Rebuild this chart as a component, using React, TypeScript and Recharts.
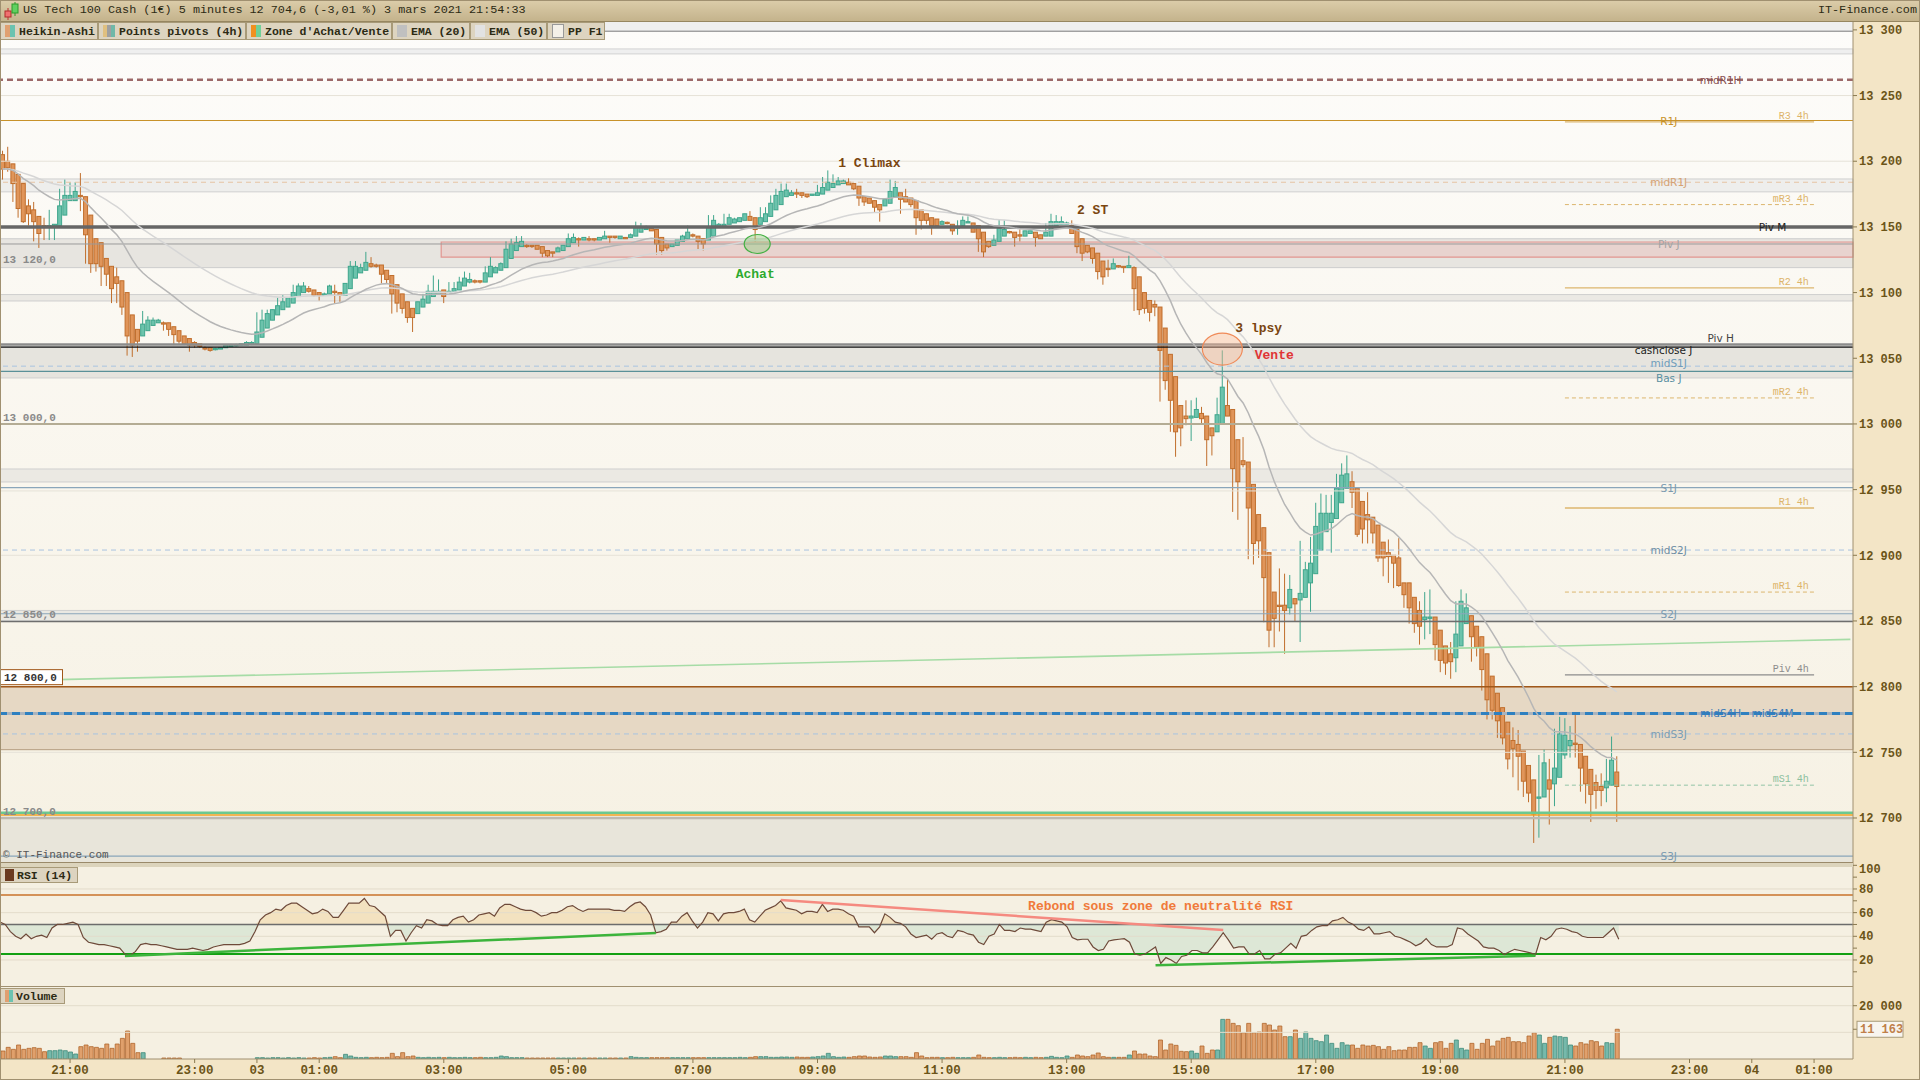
import React from 'react';
import {
  ComposedChart,
  Bar,
  Line,
  Area,
  XAxis,
  YAxis,
  ReferenceLine,
  ReferenceArea,
  ReferenceDot,
  Cell,
} from 'recharts';

const MONO = '"Liberation Mono", "DejaVu Sans Mono", monospace';
const SANS = '"DejaVu Sans", "Liberation Sans", sans-serif';

// Heikin-Ashi 5 min candles, one per slot from 19:55 (2 mars) to 21:50 (3 mars)
const haOpen = [
  13205, 13200, 13198, 13190, 13183, 13166, 13163, 13158, 13151, 13150,
  13151, 13151, 13159, 13170, 13170, 13174, 13173, 13159, 13141, 13138,
  13126, 13120, 13112, 13109, 13100, 13083, 13072, 13067, 13071, 13075,
  13077, 13077, 13077, 13074, 13071, 13067, 13065, 13062, 13061, 13058,
  13058, 13056.5, 13057, 13058, 13059, 13059.5, 13060, 13060, 13061, 13061,
  13066, 13073, 13079, 13083, 13087, 13089, 13092, 13097, 13100, 13103,
  13102, 13100, 13098, 13099, 13101, 13100, 13098, 13103, 13111, 13115,
  13117, 13122, 13121, 13121, 13117, 13113, 13106, 13099, 13093, 13088,
  13084, 13089, 13092, 13097, 13099, 13102, 13100, 13101, 13102, 13105,
  13108, 13109, 13109, 13108, 13112, 13115, 13117, 13119, 13126, 13132,
  13135, 13136, 13136, 13136, 13135, 13132, 13131, 13131, 13132, 13135,
  13138, 13141, 13140, 13141, 13141, 13140, 13141, 13143, 13143, 13141,
  13142, 13142, 13143, 13146, 13148, 13149, 13148, 13142, 13137, 13135,
  13136, 13139, 13141, 13144, 13143, 13141, 13140, 13143, 13150, 13150,
  13152, 13153, 13154, 13155, 13158, 13157, 13152, 13154, 13158, 13163,
  13167, 13173, 13174, 13176, 13176, 13175, 13174, 13174, 13175, 13178,
  13180, 13182, 13183, 13184, 13183, 13181, 13173, 13172, 13170, 13167,
  13166, 13168, 13173, 13176, 13173, 13172, 13170, 13163, 13160, 13157,
  13156, 13152, 13153.5, 13152, 13149, 13151, 13153, 13153, 13151, 13146,
  13139, 13136, 13139, 13143, 13146.5, 13146, 13144, 13143, 13145, 13146,
  13144, 13143, 13143, 13151, 13152, 13152, 13151, 13148, 13141, 13136,
  13134, 13130, 13124, 13118.5, 13118, 13120.5, 13120, 13119, 13119, 13112,
  13100, 13094, 13091, 13089, 13073, 13053, 13036, 13014, 13006, 13004.5,
  13005, 13008, 13006, 12997, 12994, 13000, 13014, 13011, 12988, 12972,
  12971, 12954, 12931, 12921, 12902, 12872, 12862, 12862, 12860, 12867,
  12866, 12868, 12879, 12886, 12904, 12918, 12925, 12928, 12940, 12951,
  12956, 12951, 12941, 12931, 12929, 12923, 12910, 12902, 12900, 12898,
  12879, 12879, 12868, 12858, 12851, 12852, 12853, 12843, 12831, 12825,
  12822, 12831, 12848, 12854, 12846, 12838, 12825, 12808, 12795, 12784,
  12773, 12759, 12756, 12751, 12740, 12729, 12715, 12716, 12729, 12726,
  12731, 12748, 12755, 12757, 12756, 12747, 12737, 12727, 12724, 12723,
  12725, 12735,
];
const haClose = [
  13194, 13195, 13183, 13164, 13154, 13160, 13154, 13145, 13150, 13151,
  13152, 13166, 13174, 13174, 13177, 13173, 13144, 13122, 13122, 13120,
  13114, 13103, 13107, 13089, 13067, 13060, 13063, 13076, 13079, 13079,
  13079, 13076, 13072, 13068, 13063, 13061, 13060, 13060, 13059, 13057,
  13056, 13057.5, 13058, 13060, 13060, 13060.5, 13061, 13062, 13062, 13070,
  13079, 13084, 13087, 13090, 13093, 13096, 13100, 13105, 13105, 13101,
  13098, 13098, 13099, 13105, 13100, 13098, 13107, 13120, 13120, 13119,
  13123, 13120, 13120, 13114, 13110, 13099, 13092, 13088, 13081, 13081,
  13093, 13095, 13101, 13101, 13101, 13097, 13101, 13103, 13108, 13111,
  13110, 13108, 13108, 13115, 13120, 13119, 13122, 13133, 13137, 13138,
  13139, 13135, 13135, 13133, 13130, 13128, 13130, 13134, 13136, 13141,
  13142, 13140, 13142, 13140, 13140, 13142, 13143, 13142, 13142, 13143,
  13141, 13144, 13150, 13150, 13149, 13147, 13137, 13132, 13134, 13137,
  13140, 13143, 13146, 13143, 13139, 13137, 13150, 13155, 13152, 13152,
  13157, 13156, 13157, 13160, 13155, 13148, 13157, 13160, 13168, 13174,
  13177, 13178, 13176, 13175, 13174, 13173, 13175, 13176, 13180, 13184,
  13183, 13185, 13185, 13182, 13179, 13172, 13169, 13168, 13165, 13163,
  13171, 13177, 13180, 13171, 13169, 13167, 13157, 13155, 13155, 13151,
  13151, 13154, 13152.5, 13147, 13150, 13155, 13154, 13146, 13141, 13131,
  13135, 13140, 13149, 13148, 13145.5, 13142, 13143, 13147, 13147, 13142,
  13141, 13146, 13154, 13154, 13154, 13153, 13145, 13135, 13130, 13131,
  13126, 13116, 13112, 13117.5, 13122, 13119.5, 13119, 13120.5, 13103, 13087,
  13088, 13085, 13089, 13056, 13033, 13018, 12994, 12997, 13004, 13006,
  13011, 13004, 12988, 12991, 13007, 13028, 13006, 12966, 12956, 12969,
  12936, 12909, 12911, 12883, 12843, 12852, 12861, 12858, 12874, 12863,
  12871, 12889, 12894, 12922, 12932, 12932, 12932, 12951, 12961, 12962,
  12948, 12916, 12920, 12927, 12917, 12898, 12898, 12899, 12894, 12877,
  12870, 12860, 12848, 12846, 12853, 12853, 12832, 12820, 12818, 12819,
  12840, 12865, 12860, 12838, 12830, 12813, 12790, 12782, 12774, 12761,
  12745, 12753, 12747, 12728, 12719, 12703, 12716, 12742, 12722, 12738,
  12764, 12763, 12759, 12756, 12738, 12726, 12718, 12721, 12721, 12728,
  12744, 12724,
];
const haHigh = [
  13208, 13211, 13198, 13190, 13183, 13171, 13169, 13158, 13157, 13163,
  13152, 13179, 13186, 13184, 13184, 13191, 13173, 13159, 13141, 13138,
  13126, 13120, 13119, 13109, 13100, 13083, 13072, 13086, 13082, 13081,
  13080, 13078, 13077, 13074, 13071, 13067, 13065, 13063, 13061, 13059,
  13058, 13058, 13058, 13060, 13061, 13061, 13061, 13063, 13063, 13085,
  13087, 13087, 13087, 13096, 13098, 13096, 13106, 13107, 13108, 13105,
  13102, 13100, 13100, 13106, 13106, 13100, 13107, 13124, 13124, 13122,
  13131, 13127, 13122, 13121, 13117, 13113, 13106, 13099, 13093, 13088,
  13093, 13099, 13106, 13113, 13110, 13102, 13108, 13108, 13112, 13116,
  13115, 13110, 13109, 13120, 13127, 13120, 13123, 13139, 13141, 13143,
  13143, 13137, 13136, 13136, 13135, 13132, 13131, 13135, 13136, 13145,
  13145, 13142, 13142, 13143, 13141, 13142, 13147, 13143, 13143, 13143,
  13142, 13145, 13154, 13153, 13151, 13149, 13148, 13142, 13137, 13137,
  13140, 13144, 13151, 13145, 13143, 13141, 13159, 13159, 13153, 13160,
  13160, 13157, 13157, 13160, 13162, 13157, 13165, 13165, 13174, 13179,
  13183, 13183, 13178, 13179, 13176, 13175, 13175, 13182, 13188, 13193,
  13190, 13188, 13186, 13187, 13183, 13181, 13173, 13172, 13170, 13167,
  13171, 13186, 13185, 13176, 13179, 13172, 13170, 13163, 13160, 13157,
  13156, 13155, 13154, 13152, 13155, 13158, 13158, 13153, 13151, 13146,
  13139, 13144, 13156, 13155, 13147, 13146, 13148, 13147, 13147, 13146,
  13144, 13153, 13160, 13159, 13158, 13154, 13155, 13148, 13141, 13136,
  13134, 13130, 13124, 13125, 13126, 13121, 13120, 13128, 13120, 13112,
  13100, 13094, 13094, 13089, 13073, 13053, 13036, 13014, 13018, 13018,
  13020, 13013, 13006, 12997, 13020, 13056, 13034, 13011, 12988, 12990,
  12971, 12954, 12931, 12921, 12902, 12872, 12890, 12886, 12885, 12867,
  12911, 12895, 12914, 12940, 12947, 12946, 12946, 12962, 12970, 12976,
  12964, 12951, 12941, 12948, 12929, 12923, 12910, 12912, 12900, 12913,
  12879, 12879, 12868, 12865, 12872, 12874, 12853, 12843, 12831, 12834,
  12865, 12874, 12871, 12854, 12846, 12838, 12825, 12808, 12795, 12784,
  12773, 12769, 12767, 12751, 12740, 12729, 12748, 12752, 12745, 12768,
  12777, 12776, 12770, 12780, 12756, 12747, 12737, 12733, 12734, 12745,
  12762, 12747,
];
const haLow = [
  13186, 13192, 13169, 13157, 13153, 13151, 13139, 13134, 13140, 13140,
  13140, 13151, 13159, 13170, 13170, 13162, 13122, 13115, 13116, 13105,
  13105, 13092, 13092, 13083, 13052, 13051, 13055, 13067, 13071, 13075,
  13077, 13071, 13067, 13060, 13061, 13060, 13055, 13058, 13058, 13056,
  13055, 13056, 13057, 13058, 13059, 13059, 13060, 13060, 13060, 13061,
  13066, 13073, 13079, 13083, 13087, 13089, 13092, 13097, 13100, 13100,
  13097, 13094, 13098, 13099, 13092, 13093, 13098, 13103, 13111, 13115,
  13117, 13119, 13119, 13107, 13107, 13084, 13085, 13084, 13077, 13070,
  13084, 13089, 13092, 13097, 13099, 13092, 13100, 13101, 13102, 13105,
  13107, 13107, 13107, 13108, 13112, 13115, 13117, 13119, 13126, 13132,
  13135, 13134, 13134, 13133, 13127, 13127, 13127, 13131, 13132, 13135,
  13138, 13135, 13140, 13139, 13139, 13140, 13141, 13138, 13141, 13141,
  13141, 13142, 13143, 13146, 13148, 13147, 13129, 13129, 13132, 13135,
  13136, 13139, 13141, 13142, 13133, 13132, 13140, 13143, 13150, 13150,
  13152, 13153, 13154, 13155, 13155, 13139, 13152, 13154, 13158, 13163,
  13167, 13173, 13174, 13172, 13172, 13172, 13174, 13174, 13175, 13178,
  13180, 13182, 13183, 13182, 13178, 13166, 13166, 13168, 13161, 13154,
  13166, 13168, 13173, 13160, 13169, 13165, 13144, 13148, 13152, 13144,
  13150, 13152, 13152, 13144, 13144, 13151, 13153, 13146, 13131, 13127,
  13134, 13136, 13139, 13143, 13145, 13135, 13139, 13143, 13145, 13135,
  13141, 13143, 13143, 13151, 13152, 13152, 13145, 13130, 13124, 13130,
  13122, 13110, 13106, 13112, 13118, 13119, 13115, 13119, 13086, 13083,
  13084, 13078, 13082, 13017, 13026, 12994, 12975, 12983, 12999, 12987,
  13005, 13000, 12968, 12976, 12994, 13000, 13006, 12933, 12927, 12967,
  12897, 12893, 12898, 12849, 12830, 12830, 12842, 12825, 12855, 12850,
  12834, 12868, 12857, 12886, 12904, 12918, 12902, 12928, 12940, 12951,
  12936, 12914, 12909, 12909, 12909, 12895, 12884, 12879, 12875, 12876,
  12860, 12848, 12841, 12832, 12836, 12840, 12820, 12811, 12809, 12806,
  12811, 12831, 12848, 12819, 12823, 12797, 12775, 12775, 12761, 12756,
  12737, 12731, 12721, 12716, 12712, 12681, 12685, 12716, 12695, 12709,
  12731, 12745, 12746, 12746, 12720, 12711, 12697, 12707, 12709, 12712,
  12725, 12697,
];

// RSI (14)
const rsiValues = [
  52, 50, 44, 40, 38, 42, 38, 40, 41, 39,
  47, 50, 50, 51, 52, 50, 39, 35, 34, 33,
  33, 32, 31, 30, 25, 24, 27, 33, 34, 33,
  33, 32, 31, 30, 29, 29, 29, 30, 29, 28,
  29, 31, 32, 33, 33, 33, 33, 34, 36, 44,
  54, 58, 60, 63, 62, 66, 68, 68, 65, 62,
  59, 60, 63, 61, 56, 56, 62, 68, 68, 68,
  72, 66, 65, 61, 57, 40, 45, 45, 36, 43,
  49, 47, 54, 53, 50, 49, 49, 54, 56, 57,
  52, 54, 58, 59, 60, 57, 64, 67, 67, 65,
  63, 62, 62, 60, 57, 58, 60, 60, 62, 65,
  66, 63, 61, 63, 63, 63, 63, 63, 62, 62,
  61, 65, 68, 69, 65, 58, 43, 44, 46, 52,
  52, 57, 60, 53, 47, 52, 60, 59, 53, 59,
  60, 60, 61, 63, 54, 52, 57, 62, 64, 66,
  70, 64, 63, 62, 59, 61, 61, 60, 67, 61,
  63, 63, 62, 59, 57, 48, 48, 48, 43, 48,
  59, 56, 52, 51, 48, 42, 39, 40, 41, 37.5,
  42, 43, 40, 39, 45, 44, 42, 41, 35, 33,
  40, 42, 50, 45, 45, 44, 47, 46, 46, 45,
  44, 52, 54, 53, 52, 48, 39, 37, 37.5, 37.5,
  31, 28, 29, 36, 37, 37.5, 38, 35, 25, 24,
  25, 28, 31, 17, 22, 20, 17, 23, 24, 28,
  28, 26, 26, 31, 37, 43, 37, 30, 31, 31,
  25, 25, 28, 21, 21, 25, 26, 30, 34, 30,
  40, 41, 45, 48, 49, 49, 53, 54, 56, 52,
  50, 46, 45, 48, 42, 42, 43, 44, 40, 39,
  37, 35, 32, 34, 38, 33, 31, 31, 31, 33,
  47, 46, 42, 39, 36, 31, 30, 30, 28, 24.5,
  27, 29, 28, 27, 26, 24.5, 39, 37, 40, 46,
  47, 46, 44, 43, 40, 39, 39, 39, 39, 43,
  47, 37.5,
];

// Volume per candle (0 = no volume printed)
const volumes = [
  3000, 4375, 3625, 5250, 3625, 4000, 4250, 4000, 2750, 3125,
  3125, 3375, 3125, 2625, 1875, 4625, 5250, 4625, 4375, 4000,
  5625, 4000, 5625, 7750, 10500, 5875, 2375, 2375, 0, 0,
  0, 375, 375, 375, 375, 0, 0, 0, 0, 0,
  0, 0, 0, 0, 0, 0, 0, 0, 0, 500,
  500, 375, 500, 500, 375, 500, 375, 500, 375, 375,
  500, 375, 500, 625, 875, 500, 1750, 1125, 625, 500,
  625, 500, 625, 500, 625, 2125, 875, 2375, 875, 1125,
  625, 500, 625, 500, 625, 500, 625, 500, 500, 625,
  500, 500, 625, 500, 500, 625, 1125, 875, 500, 500,
  500, 375, 375, 375, 375, 375, 375, 375, 375, 375,
  375, 375, 375, 375, 375, 375, 375, 375, 375, 375,
  375, 875, 625, 500, 500, 500, 500, 500, 500, 500,
  500, 500, 500, 500, 500, 500, 500, 500, 500, 500,
  500, 500, 625, 500, 625, 875, 875, 875, 625, 625,
  750, 750, 625, 750, 625, 625, 750, 875, 1125, 2125,
  875, 625, 750, 625, 875, 1125, 1125, 750, 625, 750,
  1125, 1125, 875, 875, 875, 625, 2375, 1125, 500, 625,
  625, 500, 500, 625, 500, 500, 500, 625, 1500, 625,
  500, 500, 625, 500, 500, 625, 500, 625, 500, 625,
  500, 625, 1000, 625, 500, 1125, 625, 1500, 1125, 875,
  1500, 2250, 875, 625, 625, 625, 625, 1500, 3000, 1875,
  1875, 1125, 875, 7125, 3375, 5625, 5125, 2875, 2750, 3000,
  2125, 4875, 2125, 3375, 3375, 14875, 14875, 13375, 12500, 9875,
  13375, 9875, 10125, 13375, 12750, 10875, 12375, 8375, 8375, 10875,
  7750, 10125, 7750, 6875, 6500, 9000, 5875, 4000, 6125, 5250,
  5250, 4000, 5250, 4875, 5125, 4625, 3625, 4625, 3125, 3375,
  3375, 4375, 4375, 6125, 4875, 4000, 6125, 6500, 4000, 5875,
  7125, 4000, 3375, 5875, 3625, 5875, 7375, 4875, 6750, 7750,
  8125, 6500, 6500, 6125, 8625, 9875, 9000, 5875, 8125, 8625,
  8375, 8125, 5250, 4875, 6125, 5625, 6875, 6500, 4875, 6125,
  5875, 11163,
];

const SLOT_COUNT = 357; // 5 min slots up to ~01:35 on 4 mars
const hourTicks = [13, 37, 49, 61, 85, 109, 133, 157, 181, 205, 229, 253, 277, 301, 325, 337, 349];
const hourLabels = ['21:00', '23:00', '03', '01:00', '03:00', '05:00', '07:00', '09:00', '11:00', '13:00', '15:00', '17:00', '19:00', '21:00', '23:00', '04', '01:00'];
const priceTicks = [12700, 12750, 12800, 12850, 12900, 12950, 13000, 13050, 13100, 13150, 13200, 13250, 13300];

// daily / weekly / monthly pivot levels drawn over the whole width
const dayLevelNames = ['midR1H', 'R1J', 'midR1J', 'Piv M', 'Piv J', 'Piv H', 'cashclose J', 'midS1J', 'Bas J', 'S1J', 'midS2J', 'S2J', 'midS3J', 'S3J'];
const dayLevelPrices = [13262, 13231, 13184, 13150, 13137, 13060.5, 13058.5, 13044, 13040, 12951.5, 12904, 12855.5, 12764, 12671];
// 4h pivots, only on the 21:00 - 01:00 window
const h4LevelNames = ['R3 4h', 'mR3 4h', 'R2 4h', 'mR2 4h', 'R1 4h', 'mR1 4h', 'Piv 4h', 'mS1 4h'];
const h4LevelPrices = [13230, 13167, 13103.6, 13019.8, 12936, 12872, 12809, 12725];
const h4Window = [301, 349];
const midS4Price = 12779.6;
const plainLineNames = ['top', 'round', 'low12850', 'zoneTop', 'green', 'orange', 'base'];
const plainLinePrices = [13299, 13000, 12849.6, 12800, 12704, 12702.3, 12700];
const gridPrices = [13250, 13200, 12949, 12900, 12750];
const bandNames = ['top', 'b13283', 'b13181', 'b13130', 'b13096', 'b13047', 'b12961', 'b12854', 'zone', 'base'];
const bandLow = [13299, 13281.7, 13176.7, 13119, 13093.6, 13035, 12955.8, 12850, 12752, 12666.5];
const bandHigh = [13306, 13285.5, 13186.5, 13141, 13098.5, 13059, 12965.7, 12858, 12800, 12700];
const buyZone = { fromSlot: 85, low: 13127, high: 13138.5 };
const priceTagTexts = ['13 120,0', '13 000,0', '12 850,0', '12 800,0', '12 700,0'];
const priceTagValues = [13120, 13000, 12850, 12800, 12700];
const trendMain = [{ slot: 0, price: 12804.4 }, { slot: 356, price: 12836 }];
const noteTexts = ['1 Climax', '2 ST', '3 lpsy', 'Vente', 'Achat'];
const noteSlots = [167, 210, 242, 245, 145];
const notePrices = [13198.7, 13163, 13073, 13052.5, 13114];
const rsiGreen1 = [{ slot: 24, v: 23.4 }, { slot: 126, v: 42.8 }];
const rsiGreen2 = [{ slot: 222, v: 15.5 }, { slot: 295, v: 23.6 }];
const rsiRed = [{ slot: 150, v: 70.7 }, { slot: 235, v: 45.3 }];

const ema = (src: number[], n: number) => {
  const k = 2 / (n + 1);
  const out: number[] = [];
  src.forEach((v, i) => out.push(i === 0 ? v : v * k + out[i - 1] * (1 - k)));
  return out;
};
const ema20 = ema(haClose, 20);
const ema50 = ema(haClose, 50);

const rows = Array.from({ length: SLOT_COUNT }, (_, i) => {
  if (i >= haClose.length) return { i };
  return {
    i,
    o: haOpen[i],
    c: haClose[i],
    h: haHigh[i],
    l: haLow[i],
    rsi: rsiValues[i],
    vol: volumes[i] > 0 ? volumes[i] : null,
    ema20: ema20[i],
    ema50: ema50[i],
  };
});

const fmtNum = (v: number) => {
  const s = String(Math.round(v));
  return s.length > 3 ? s.slice(0, -3) + ' ' + s.slice(-3) : s;
};

const dayStyle: Record<string, any> = {
  midR1H: { stroke: '#9c6868', w: 2.5, dash: '6 4', color: '#8a5252', at: 1722 },
  R1J: { stroke: '#c8922a', w: 1.2, color: '#c8922a', at: 1670 },
  midR1J: { stroke: '#e6c3a2', w: 1, dash: '5 4', color: '#d5a274', at: 1670 },
  'Piv M': { stroke: '#666666', w: 3.5, color: '#222', at: 1775 },
  'Piv J': { stroke: '#9a9a9a', w: 1, color: '#a3a3a3', at: 1670 },
  'Piv H': { stroke: '#8c8c8c', w: 2.5, color: '#444', at: 1722, dy: -2 },
  'cashclose J': { stroke: '#111111', w: 1.2, color: '#222', at: 1668, dy: 7 },
  midS1J: { stroke: '#a9c4e0', w: 1, dash: '5 4', color: '#6f9dbb', at: 1670, dy: 1 },
  'Bas J': { stroke: '#5a9098', w: 1.2, color: '#5a90a0', at: 1670, dy: 11 },
  S1J: { stroke: '#8aa6ba', w: 1.2, color: '#7a9ab0', at: 1670 },
  midS2J: { stroke: '#a9c4e0', w: 1, dash: '5 4', color: '#6f8ea4', at: 1670 },
  S2J: { stroke: '#8aa6ba', w: 1.2, color: '#7a9ab0', at: 1670 },
  midS3J: { stroke: '#a9c4e0', w: 1, dash: '5 4', color: '#7a9db5', at: 1670 },
  S3J: { stroke: '#8aa6ba', w: 1.2, color: '#7a9ab0', at: 1670 },
};
const plainStyle: Record<string, any> = {
  top: { stroke: '#7a7a7a', w: 1 },
  round: { stroke: '#b4ac94', w: 2 },
  low12850: { stroke: '#6e6e6e', w: 1.5 },
  zoneTop: { stroke: '#a0581a', w: 1.5 },
  green: { stroke: '#6cc890', w: 2.5 },
  orange: { stroke: '#f0a020', w: 1.5 },
  base: { stroke: '#bdb9b0', w: 2.5 },
};
const bandStyle: Record<string, any> = {
  top: { fill: '#efefef', stroke: 'none' },
  b13283: { fill: '#efefef', stroke: '#d2d2d2' },
  b13181: { fill: '#eeeeec', stroke: '#cfcfcf' },
  b13130: { fill: '#e7e5e0', stroke: '#cdcdcd' },
  b13096: { fill: '#ebe9e4', stroke: '#cfcfcf' },
  b13047: { fill: '#e6e4de', stroke: '#cfcfcf' },
  b12961: { fill: '#ebe9e3', stroke: '#cfcfcf' },
  b12854: { fill: '#eae8e2', stroke: '#cfcfcf' },
  zone: { fill: '#e6d8c4', stroke: '#b49c7e' },
  base: { fill: '#e8e5da', stroke: 'none' },
};
const noteStyle = [
  { color: '#7a4510' },
  { color: '#7a4510' },
  { color: '#7a4510' },
  { color: '#e03535' },
  { color: '#2eaa2e' },
];

const UP_FILL = '#6cc3ac';
const UP_EDGE = '#3fa68c';
const DN_FILL = '#e0955a';
const DN_EDGE = '#c06e2c';

const Candle = (p: any) => {
  const d = p.payload;
  if (!d || d.o == null) return null;
  const top = Math.min(p.y, p.y + p.height);
  const span = Math.abs(p.height);
  const k = d.h > d.l ? span / (d.h - d.l) : 0;
  const yOf = (v: number) => top + (d.h - v) * k;
  const cx = p.x + p.width / 2;
  const up = d.c >= d.o;
  const y1 = yOf(Math.max(d.o, d.c));
  const y2 = yOf(Math.min(d.o, d.c));
  return (
    <g>
      <line x1={cx} x2={cx} y1={top} y2={top + span} stroke={up ? UP_EDGE : DN_EDGE} strokeWidth={1} />
      <rect x={cx - 2} y={y1} width={4} height={Math.max(y2 - y1, 1)} fill={up ? UP_FILL : DN_FILL} stroke={up ? UP_EDGE : DN_EDGE} strokeWidth={1} />
    </g>
  );
};

const tagText = (text: string, color: string, anchor: string, dx: number, dy: number, size: number, font: string, bold = false) =>
  (p: any) => (
    <text x={p.cx + dx} y={p.cy + dy} fill={color} fontSize={size} fontFamily={font} fontWeight={bold ? 'bold' : 'normal'} textAnchor={anchor}>
      {text}
    </text>
  );

function PriceChart() {
  const slotAt = (x: number) => Math.round((x - 3.5) / 5.194);
  return (
    <ComposedChart width={1920} height={840} data={rows} margin={{ top: 0, right: 0, bottom: 0, left: 0 }}>
      <defs>
        <linearGradient id="priceBg" x1="0" y1="0" x2="0" y2="1">
          <stop offset="0" stopColor="#fdfcfa" />
          <stop offset="1" stopColor="#f6f1e3" />
        </linearGradient>
      </defs>
      <XAxis dataKey="i" type="category" hide />
      <YAxis
        orientation="right"
        width={67}
        domain={[12666.5, 13306]}
        allowDataOverflow
        ticks={priceTicks}
        interval={0}
        tickFormatter={fmtNum}
        tickSize={4}
        axisLine={{ stroke: '#a09070' }}
        tickLine={{ stroke: '#8a7a50' }}
        tick={{ fill: '#6b5418', fontSize: 12, fontWeight: 'bold', fontFamily: MONO }}
      />
      <ReferenceArea y1={12666.5} y2={13306} fill="url(#priceBg)" fillOpacity={1} stroke="none" />
      {gridPrices.map((v) => (
        <ReferenceLine key={'g' + v} y={v} stroke="#e6e2d8" strokeWidth={1} />
      ))}
      {bandNames.map((n, k) => (
        <ReferenceArea key={'b' + n} y1={bandLow[k]} y2={bandHigh[k]} fill={bandStyle[n].fill} fillOpacity={1} stroke={bandStyle[n].stroke} strokeWidth={1} />
      ))}
      <ReferenceArea x1={buyZone.fromSlot} x2={SLOT_COUNT - 1} y1={buyZone.low} y2={buyZone.high} fill="#e8d3cf" fillOpacity={1} stroke="#e29590" strokeWidth={1.2} />
      {plainLineNames.map((n, k) => (
        <ReferenceLine key={'p' + n} y={plainLinePrices[k]} stroke={plainStyle[n].stroke} strokeWidth={plainStyle[n].w} />
      ))}
      {dayLevelNames.map((n, k) => (
        <ReferenceLine key={'d' + n} y={dayLevelPrices[k]} stroke={dayStyle[n].stroke} strokeWidth={dayStyle[n].w} strokeDasharray={dayStyle[n].dash} />
      ))}
      <ReferenceLine y={midS4Price} stroke="#aab4be" strokeWidth={3} />
      <ReferenceLine y={midS4Price} stroke="#2e80c0" strokeWidth={3} strokeDasharray="8 5" />
      {h4LevelNames.map((n, k) => (
        <ReferenceLine
          key={'h' + n}
          segment={[{ x: h4Window[0], y: h4LevelPrices[k] }, { x: h4Window[1], y: h4LevelPrices[k] }]}
          stroke={n === 'Piv 4h' ? '#8c8c8c' : n === 'mS1 4h' ? '#92c4a6' : '#dcb66e'}
          strokeWidth={n.startsWith('m') ? 1 : 1.3}
          strokeDasharray={n.startsWith('m') ? '4 3' : undefined}
        />
      ))}
      <ReferenceLine
        segment={[{ x: trendMain[0].slot, y: trendMain[0].price }, { x: trendMain[1].slot, y: trendMain[1].price }]}
        stroke="#a6dca6"
        strokeWidth={1.6}
      />
      <Line dataKey="ema50" stroke="#d6d6d6" strokeWidth={1.5} dot={false} isAnimationActive={false} connectNulls={false} />
      <Line dataKey="ema20" stroke="#b6b6b6" strokeWidth={1.5} dot={false} isAnimationActive={false} connectNulls={false} />
      <Bar dataKey={(d: any) => (d.o == null ? null : [d.l, d.h])} shape={(p: any) => <Candle {...p} />} isAnimationActive={false} />
      {/* ellipses around the entry / exit bars */}
      <ReferenceDot x={145} y={13137} r={1} shape={(p: any) => <ellipse cx={p.cx + 2} cy={p.cy} rx={13} ry={9.5} fill="rgba(150,205,130,0.45)" stroke="#44b044" strokeWidth={1.2} />} />
      <ReferenceDot x={235} y={13057} r={1} shape={(p: any) => <ellipse cx={p.cx} cy={p.cy} rx={20} ry={16} fill="rgba(250,185,150,0.4)" stroke="#f08a58" strokeWidth={1.2} />} />
      {noteTexts.map((t, k) => (
        <ReferenceDot key={'n' + t} x={noteSlots[k]} y={notePrices[k]} r={1} shape={tagText(t, noteStyle[k].color, 'middle', 0, 4, 13, MONO, true)} />
      ))}
      {dayLevelNames.map((n, k) => (
        <ReferenceDot
          key={'dl' + n}
          x={slotAt(dayStyle[n].at)}
          y={dayLevelPrices[k]}
          r={1}
          shape={tagText(n, dayStyle[n].color, 'middle', 0, dayStyle[n].dy ?? 4, 10.5, SANS)}
        />
      ))}
      <ReferenceDot x={slotAt(1722)} y={midS4Price} r={1} shape={tagText('midS4H', '#3a7ab8', 'middle', 0, 4, 10.5, SANS)} />
      <ReferenceDot x={slotAt(1775)} y={midS4Price} r={1} shape={tagText('midS4M', '#3a7ab8', 'middle', 0, 4, 10.5, SANS)} />
      {h4LevelNames.map((n, k) => (
        <ReferenceDot
          key={'hl' + n}
          x={h4Window[1] - 1}
          y={h4LevelPrices[k]}
          r={1}
          shape={tagText(n, n === 'Piv 4h' ? '#8c8c8c' : n === 'mS1 4h' ? '#8cbf9e' : '#ddb46a', 'end', 0, -3, 10, MONO)}
        />
      ))}
      {priceTagTexts.map((t, k) =>
        priceTagValues[k] === 12800 ? (
          <ReferenceDot
            key={'t' + t}
            x={0}
            y={priceTagValues[k]}
            r={1}
            shape={(p: any) => (
              <g>
                <rect x={0.5} y={p.cy - 17} width={62} height={15} fill="#ffffff" stroke="#a0581a" strokeWidth={1} />
                <text x={4} y={p.cy - 6} fill="#333" fontSize={11} fontWeight="bold" fontFamily={MONO}>{t}</text>
              </g>
            )}
          />
        ) : (
          <ReferenceDot key={'t' + t} x={0} y={priceTagValues[k]} r={1} shape={(p: any) => (
            <text x={3} y={p.cy - 3} fill="#8a8a8a" fontSize={11} fontWeight="bold" fontFamily={MONO}>{t}</text>
          )} />
        )
      )}
    </ComposedChart>
  );
}

const RsiTick = (p: any) => {
  const v = p.payload.value;
  if (v % 20 !== 0) return null;
  return (
    <text x={p.x} y={p.y + (v === 100 ? 8 : 4)} fill="#6b5418" fontSize={12} fontWeight="bold" fontFamily={MONO} textAnchor="start">
      {v}
    </text>
  );
};

function RsiChart() {
  return (
    <ComposedChart width={1920} height={124} data={rows} margin={{ top: 0, right: 0, bottom: 0, left: 0 }}>
      <XAxis dataKey="i" type="category" hide />
      <YAxis
        orientation="right"
        width={67}
        domain={[-2, 102.8]}
        allowDataOverflow
        ticks={[10, 20, 30, 40, 50, 60, 70, 80, 90, 100]}
        interval={0}
        tickSize={4}
        axisLine={{ stroke: '#a09070' }}
        tickLine={{ stroke: '#8a7a50' }}
        tick={<RsiTick />}
      />
      <ReferenceArea y1={-2} y2={102.8} fill="#f5f0e2" fillOpacity={1} stroke="none" />
      {[20, 40, 60, 80, 100].map((v) => (
        <ReferenceLine key={'rg' + v} y={v} stroke="#e3dccb" strokeWidth={1} />
      ))}
      <Area dataKey={(d: any) => (d.rsi == null ? null : [50, Math.max(d.rsi, 50)])} type="linear" fill="#f3e2c0" fillOpacity={1} stroke="none" isAnimationActive={false} />
      <Area dataKey={(d: any) => (d.rsi == null ? null : [Math.min(d.rsi, 50), 50])} type="linear" fill="#dde7d6" fillOpacity={1} stroke="none" isAnimationActive={false} />
      <ReferenceLine y={75} stroke="#c8732a" strokeWidth={1.5} />
      <ReferenceLine y={50} stroke="#6c6c6c" strokeWidth={1.5} />
      <ReferenceLine y={25} stroke="#12a012" strokeWidth={2} />
      <Line dataKey="rsi" stroke="#6e4a3a" strokeWidth={1.2} dot={false} isAnimationActive={false} />
      <ReferenceLine segment={[{ x: rsiGreen1[0].slot, y: rsiGreen1[0].v }, { x: rsiGreen1[1].slot, y: rsiGreen1[1].v }]} stroke="#3cb43c" strokeWidth={2.5} />
      <ReferenceLine segment={[{ x: rsiGreen2[0].slot, y: rsiGreen2[0].v }, { x: rsiGreen2[1].slot, y: rsiGreen2[1].v }]} stroke="#3cb43c" strokeWidth={2.5} />
      <ReferenceLine segment={[{ x: rsiRed[0].slot, y: rsiRed[0].v }, { x: rsiRed[1].slot, y: rsiRed[1].v }]} stroke="#f58a80" strokeWidth={2.5} />
      <ReferenceDot x={223} y={65.6} r={1} shape={tagText('Rebond sous zone de neutralité RSI', '#f07a3a', 'middle', 0, 4, 13, MONO, true)} />
    </ComposedChart>
  );
}

const VolTick = (p: any) => {
  const v = p.payload.value;
  if (v === volumes[volumes.length - 1]) {
    return (
      <g>
        <rect x={p.x - 2} y={p.y - 8} width={46} height={16} fill="#f8f5ef" stroke="#a89a78" />
        <text x={p.x + 1} y={p.y + 4} fill="#c0804a" fontSize={12} fontWeight="bold" fontFamily={MONO}>{fmtNum(v)}</text>
      </g>
    );
  }
  return (
    <text x={p.x} y={p.y + 4} fill="#6b5418" fontSize={12} fontWeight="bold" fontFamily={MONO}>{fmtNum(v)}</text>
  );
};

function VolumeChart() {
  return (
    <ComposedChart width={1920} height={94} data={rows} margin={{ top: 0, right: 0, bottom: 0, left: 0 }}>
      <XAxis
        dataKey="i"
        type="category"
        ticks={hourTicks}
        interval={0}
        height={21}
        tickSize={4}
        tickFormatter={(v: any) => hourLabels[hourTicks.indexOf(Number(v))]}
        axisLine={{ stroke: '#a09070' }}
        tickLine={{ stroke: '#8a7a50' }}
        tick={{ fill: '#6b5418', fontSize: 12.5, fontWeight: 'bold', fontFamily: MONO }}
      />
      <YAxis
        orientation="right"
        width={67}
        domain={[0, 27400]}
        allowDataOverflow
        ticks={[volumes[volumes.length - 1], 20000]}
        interval={0}
        tickSize={4}
        axisLine={{ stroke: '#a09070' }}
        tickLine={{ stroke: '#8a7a50' }}
        tick={<VolTick />}
      />
      <ReferenceArea y1={0} y2={27400} fill="#f5f0e2" fillOpacity={1} stroke="none" />
      <ReferenceLine y={10000} stroke="#e3dccb" />
      <ReferenceLine y={20000} stroke="#e3dccb" />
      <Bar dataKey="vol" barSize={4} isAnimationActive={false}>
        {rows.map((d: any) => (
          <Cell
            key={'v' + d.i}
            fill={d.c >= d.o ? '#76b9ab' : '#e0a06c'}
            stroke={d.c >= d.o ? '#3f8a7a' : '#b0662c'}
            strokeWidth={0.8}
          />
        ))}
      </Bar>
    </ComposedChart>
  );
}

const legendItems = [
  { text: 'Heikin-Ashi', w: 98, sw: ['#e0a070', '#6cc3b0'] },
  { text: 'Points pivots (4h)', w: 148, sw: ['#e0c080', '#a0a0a0', '#70b8a8'] },
  { text: "Zone d'Achat/Vente", w: 146, sw: ['#f09020', '#70d098'] },
  { text: 'EMA (20)', w: 78, sw: ['#c0c0c0', '#c0c0c0'] },
  { text: 'EMA (50)', w: 77, sw: ['#e2e2e2', '#e2e2e2'] },
  { text: 'PP F1', w: 58, sw: ['#f4f0e8', '#f4f0e8'] },
];

const boxStyle: React.CSSProperties = {
  background: '#ddd4c0',
  border: '1px solid #a89a78',
  boxSizing: 'border-box',
  height: 18,
  display: 'flex',
  alignItems: 'center',
  fontFamily: MONO,
  fontWeight: 'bold',
  fontSize: 11.5,
  color: '#2c2a14',
  whiteSpace: 'nowrap',
  overflow: 'hidden',
};

export default function App() {
  return (
    <div style={{ position: 'fixed', left: 0, top: 0, width: 1920, height: 1080, background: '#f3e5c6', overflow: 'hidden' }}>
      {/* title bar */}
      <div
        style={{
          position: 'absolute', left: 0, top: 0, width: 1920, height: 22, boxSizing: 'border-box',
          background: 'linear-gradient(#dccdaa, #c4b38c)', borderBottom: '1px solid #968660',
          fontFamily: MONO, fontSize: 11.8, color: '#2c2a14',
        }}
      >
        <svg width={18} height={20} style={{ position: 'absolute', left: 2, top: 1 }}>
          <line x1={6} x2={6} y1={7} y2={19} stroke="#c03030" />
          <rect x={3} y={10} width={6} height={6} fill="#f07070" stroke="#b02a2a" />
          <line x1={13} x2={13} y1={1} y2={15} stroke="#2a9a2a" />
          <rect x={10} y={3} width={6} height={9} fill="#60d060" stroke="#2a9a2a" />
        </svg>
        <span style={{ position: 'absolute', left: 23, top: 3 }}>
          US Tech 100 Cash (1€) 5 minutes 12 704,6 (-3,01 %) 3 mars 2021 21:54:33
        </span>
        <span style={{ position: 'absolute', right: 3, top: 3 }}>IT-Finance.com</span>
      </div>

      {/* price panel */}
      <div style={{ position: 'absolute', left: 0, top: 22, width: 1920, height: 840 }}>
        <PriceChart />
      </div>
      <div style={{ position: 'absolute', left: 0, top: 22, display: 'flex' }}>
        {legendItems.map((it) => (
          <div key={it.text} style={{ ...boxStyle, width: it.w }}>
            <span style={{ display: 'flex', marginLeft: 4, marginRight: 4, border: it.text === 'PP F1' ? '1px solid #999' : 'none' }}>
              {it.sw.map((c, k) => (
                <span key={k} style={{ width: it.sw.length === 3 ? 4 : 5, height: 12, background: c }} />
              ))}
            </span>
            {it.text}
          </div>
        ))}
      </div>
      <div style={{ position: 'absolute', left: 3, top: 849, fontFamily: MONO, fontSize: 11, color: '#555' }}>© IT-Finance.com</div>

      {/* separator + RSI panel */}
      <div style={{ position: 'absolute', left: 0, top: 862, width: 1920, height: 124 }}>
        <RsiChart />
      </div>
      <div style={{ position: 'absolute', left: 0, top: 862, width: 1853, height: 5, background: '#dcd4bc', borderTop: '1px solid #9a8a6a', boxSizing: 'border-box' }} />
      <div style={{ ...boxStyle, position: 'absolute', left: 0, top: 867, width: 78, height: 16 }}>
        <span style={{ width: 9, height: 12, background: '#6a3a20', marginLeft: 4, marginRight: 3 }} />
        RSI (14)
      </div>

      {/* volume panel */}
      <div style={{ position: 'absolute', left: 0, top: 986, width: 1920, height: 94 }}>
        <VolumeChart />
      </div>
      <div style={{ position: 'absolute', left: 0, top: 986, width: 1853, height: 1, background: '#a09070' }} />
      <div style={{ ...boxStyle, position: 'absolute', left: 0, top: 988, width: 65, height: 16 }}>
        <span style={{ display: 'flex', marginLeft: 4, marginRight: 3 }}>
          <span style={{ width: 4, height: 12, background: '#e0a070' }} />
          <span style={{ width: 4, height: 12, background: '#6cc3b0' }} />
        </span>
        Volume
      </div>
      <div style={{ position: 'absolute', left: 0, top: 0, width: 1920, height: 1080, boxSizing: 'border-box', border: '1px solid #a09070', pointerEvents: 'none' }} />
    </div>
  );
}
